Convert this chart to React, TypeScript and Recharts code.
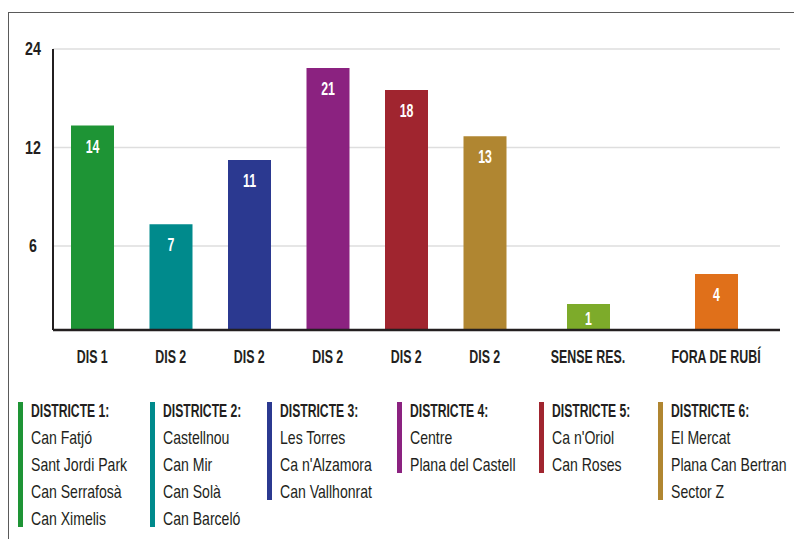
import React from 'react';
import { BarChart, Bar, XAxis, YAxis, CartesianGrid, Cell, LabelList } from 'recharts';

// ---------- data ----------
const categories = ['DIS 1', 'DIS 2', 'DIS 2', 'DIS 2', 'DIS 2', 'DIS 2', 'SENSE RES.', 'FORA DE RUBÍ'];
const values = [14, 7, 11, 21, 18, 13, 1, 4];
const barColors = ['#1e9435', '#008a8c', '#2b3990', '#8b2280', '#a0252f', '#b08631', '#7dab2a', '#e0701a'];
const yTickValues = [6, 12, 24];

const districtTitles = ['DISTRICTE 1:', 'DISTRICTE 2:', 'DISTRICTE 3:', 'DISTRICTE 4:', 'DISTRICTE 5:', 'DISTRICTE 6:'];
const district1 = ['Can Fatjó', 'Sant Jordi Park', 'Can Serrafosà', 'Can Ximelis'];
const district2 = ['Castellnou', 'Can Mir', 'Can Solà', 'Can Barceló'];
const district3 = ['Les Torres', "Ca n'Alzamora", 'Can Vallhonrat'];
const district4 = ['Centre', 'Plana del Castell'];
const district5 = ["Ca n'Oriol", 'Can Roses'];
const district6 = ['El Mercat', 'Plana Can Bertran', 'Sector Z'];
const districtPlaces = [district1, district2, district3, district4, district5, district6];
const districtColors = ['#1e9435', '#008a8c', '#2b3990', '#8b2280', '#a0252f', '#b08631'];

// ---------- styling ----------
const FONT = "'Liberation Sans', Arial, sans-serif";
const INK = '#231f20';

// axis transform: linear up to 6, logarithmic (base 2) above
const LIN = 6;
const K = 7.04;
const toAxis = (v: number) => (v <= LIN ? v : LIN + K * Math.log2(v / LIN));
const yTicks = yTickValues.map(toAxis);
const yMax = toAxis(24);
const tickLabel = (t: number) => {
  const i = yTicks.findIndex((x) => Math.abs(x - t) < 1e-6);
  return i >= 0 ? String(yTickValues[i]) : '';
};

const rows = categories.map((name, i) => ({ name, value: values[i], color: barColors[i] }));
const districtRows = rows.slice(0, 6);
const otherRows = rows.slice(6);

// condensed text (horizontal squeeze to imitate a condensed typeface)
const CondText = ({ x, y, sx, children, ...rest }: any) => (
  <g transform={`translate(${x},${y})`}>
    <text x={0} y={0} transform={`scale(${sx},1)`} {...rest}>{children}</text>
  </g>
);

const YTick = (props: any) => {
  const { x, y, payload } = props;
  return (
    <CondText x={x} y={y} sx={0.75} textAnchor="middle" dominantBaseline="central" fill={INK}
      fontFamily={FONT} fontSize={19} fontWeight={700}>
      {tickLabel(payload.value)}
    </CondText>
  );
};

const XTick = (props: any) => {
  const { x, y, payload } = props;
  return (
    <CondText x={x} y={y} sx={0.69} textAnchor="middle" dy="0.71em" fill={INK}
      fontFamily={FONT} fontSize={18} fontWeight={700}>
      {payload.value}
    </CondText>
  );
};

const BarLabel = (props: any) => {
  const vb = props.viewBox || props;
  const x = Number(vb.x ?? props.x);
  const y = Number(vb.y ?? props.y);
  const w = Number(vb.width ?? props.width);
  const h = Math.abs(Number(vb.height ?? props.height));
  return (
    <CondText x={x + w / 2} y={y + Math.min(20, h * 0.55)} sx={0.65} textAnchor="middle"
      dominantBaseline="central" fill="#ffffff" fontFamily={FONT} fontSize={19} fontWeight={700}>
      {props.value}
    </CondText>
  );
};

const CHART_H = 362;
const MARGIN = { top: 41, right: 0, bottom: 0, left: 0 };

function Panel({ data, width, showY }: { data: any[]; width: number; showY: boolean }) {
  return (
    <BarChart width={width} height={CHART_H} data={data} margin={MARGIN}>
      <CartesianGrid vertical={false} stroke="#dedede" strokeWidth={1.5} />
      <XAxis dataKey="name" interval={0} tickLine={false} tickSize={0} tickMargin={20}
        height={40} axisLine={{ stroke: INK, strokeWidth: 2.5 }} tick={<XTick />} />
      <YAxis type="number" domain={[0, yMax]} ticks={yTicks} allowDataOverflow
        hide={!showY} width={45} tickLine={false} tickSize={0} tickMargin={20}
        axisLine={{ stroke: INK, strokeWidth: 2 }} tick={<YTick />} />
      <Bar dataKey={(d: any) => toAxis(d.value)} barSize={43} minPointSize={26} isAnimationActive={false}>
        {data.map((d, i) => (
          <Cell key={i} fill={d.color} />
        ))}
        <LabelList dataKey="value" content={<BarLabel />} />
      </Bar>
    </BarChart>
  );
}

const colLefts = [18, 150, 267, 397, 539, 658];

export default function App() {
  return (
    <div style={{ position: 'absolute', left: 0, top: 0, width: 794, height: 539, overflow: 'hidden', background: '#fff' }}>
      <div style={{ position: 'absolute', left: 8, top: 12, width: 800, height: 540,
        borderTop: '1.5px solid #5a5a5a', borderLeft: '1.5px solid #5a5a5a' }} />
      <div style={{ position: 'absolute', left: 8, top: 8 }}>
        <Panel data={districtRows} width={516} showY={true} />
      </div>
      <div style={{ position: 'absolute', left: 524, top: 8 }}>
        <Panel data={otherRows} width={256} showY={false} />
      </div>
      {districtTitles.map((title, i) => (
        <div key={i} style={{ position: 'absolute', left: colLefts[i], top: 397, fontFamily: FONT,
          fontSize: 19, lineHeight: '27px', color: INK, whiteSpace: 'nowrap' }}>
          <div style={{ position: 'absolute', left: 0, top: 5, bottom: 5, width: 5, background: districtColors[i] }} />
          <div style={{ paddingLeft: 13 }}>
            <div style={{ fontWeight: 700, transform: 'scaleX(0.64)', transformOrigin: 'left center' }}>{title}</div>
            {districtPlaces[i].map((p, j) => (
              <div key={j} style={{ transform: 'scaleX(0.74)', transformOrigin: 'left center' }}>{p}</div>
            ))}
          </div>
        </div>
      ))}
    </div>
  );
}
